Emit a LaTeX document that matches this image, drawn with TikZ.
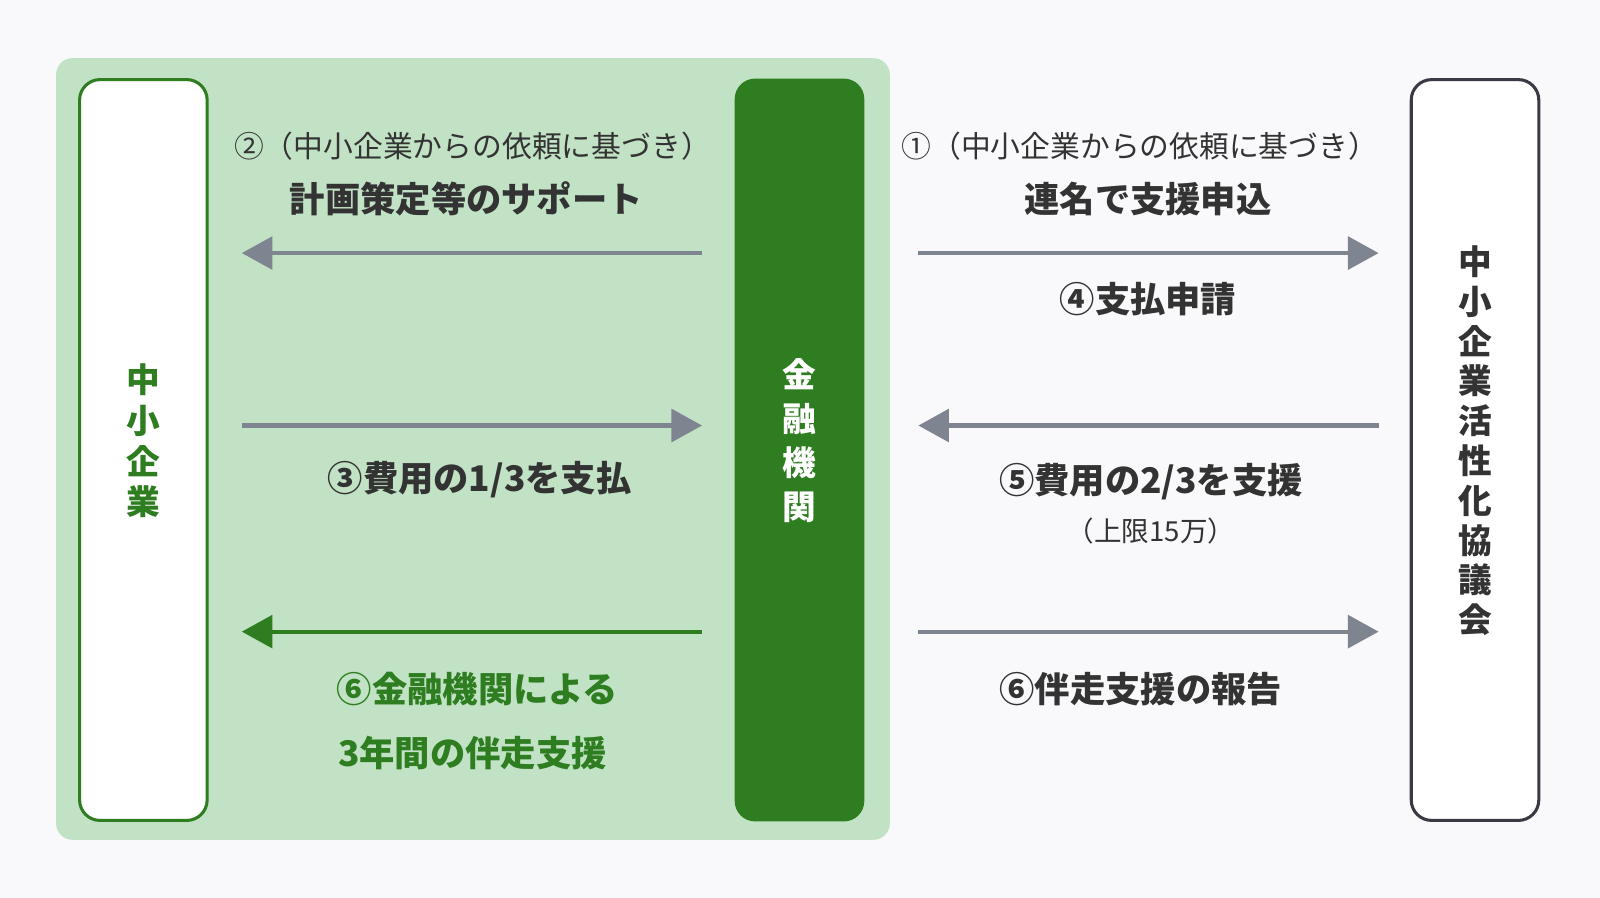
\documentclass[tikz,border=0pt]{standalone}
\usepackage{fontspec}
\setmainfont{Noto Sans CJK JP}
\usetikzlibrary{arrows.meta}
\definecolor{bg}{HTML}{F9F9FB}
\definecolor{panel}{HTML}{C2E2C5}
\definecolor{dgreen}{HTML}{2E7D20}
\definecolor{gray}{HTML}{7F8491}
\definecolor{txt}{HTML}{333333}
\definecolor{dark}{HTML}{3A3A45}
\begin{document}
\begin{tikzpicture}[x=0.5pt,y=-0.5pt,
 arr/.style={line width=2pt,draw=gray,-{Triangle[length=15pt,width=16pt]}},
 garr/.style={line width=2pt,draw=dgreen,-{Triangle[length=15pt,width=16pt]}},
 lbl/.style={font=\fontsize{14.6}{17}\selectfont,text=txt},
 blbl/.style={font=\fontsize{17.3}{20}\selectfont\bfseries,text=txt},
 vt/.style={font=\fontsize{16.5}{20}\selectfont\bfseries,align=center}]
\fill[bg] (0,0) rectangle (1568,880);
\useasboundingbox (0,0) rectangle (1568,880);
\fill[panel,rounded corners=8pt] (55,57) rectangle (872,823);
\draw[dgreen,line width=1.5pt,fill=white,rounded corners=10pt] (78,78) rectangle (203,804);
\fill[dgreen,rounded corners=10pt] (720,77) rectangle (847,805);
\draw[dark,line width=1.5pt,fill=white,rounded corners=10pt] (1383,78) rectangle (1508,804);
\node[vt,text=dgreen] (sme) at (140,432) {中\\小\\企\\業};
\node[vt,text=white,font=\fontsize{16.5}{21.5}\selectfont\bfseries] (bank) at (783,432) {金\\融\\機\\関};
\node[vt,text=txt,font=\fontsize{16.5}{19.5}\selectfont\bfseries] (council) at (1446,432) {中\\小\\企\\業\\活\\性\\化\\協\\議\\会};
\coordinate (a2s) at (688,248); \coordinate (a2e) at (237,248);
\coordinate (a1s) at (900,248); \coordinate (a1e) at (1351,248);
\coordinate (a3s) at (237,417); \coordinate (a3e) at (688,417);
\coordinate (a5s) at (1351,417); \coordinate (a5e) at (900,417);
\coordinate (a6s) at (688,619); \coordinate (a6e) at (237,619);
\coordinate (a7s) at (900,619); \coordinate (a7e) at (1351,619);
\draw[arr] (a2s) -- (a2e);
\draw[arr] (a1s) -- (a1e);
\draw[arr] (a3s) -- (a3e);
\draw[arr] (a5s) -- (a5e);
\draw[garr] (a6s) -- (a6e);
\draw[arr] (a7s) -- (a7e);
\node[lbl] (t2a) at (463,143) {②（中小企業からの依頼に基づき）};
\node[blbl] (t2b) at (457,195) {計画策定等のサポート};
\node[lbl] (t1a) at (1117,143) {①（中小企業からの依頼に基づき）};
\node[blbl] (t1b) at (1125,195) {連名で支援申込};
\node[blbl] (t4) at (1125,293) {④支払申請};
\node[blbl] (t3) at (470,470) {③費用の1/3を支払};
\node[blbl] (t5) at (1128,472) {⑤費用の2/3を支援};
\node[lbl,font=\fontsize{13.5}{15}\selectfont] (t5b) at (1128,520) {（上限15万）};
\node[blbl,text=dgreen] (t6a) at (468,675) {⑥金融機関による};
\node[blbl,text=dgreen] (t6b) at (463,738) {3年間の伴走支援};
\node[blbl] (t7) at (1118,675) {⑥伴走支援の報告};
\end{tikzpicture}
\end{document}
